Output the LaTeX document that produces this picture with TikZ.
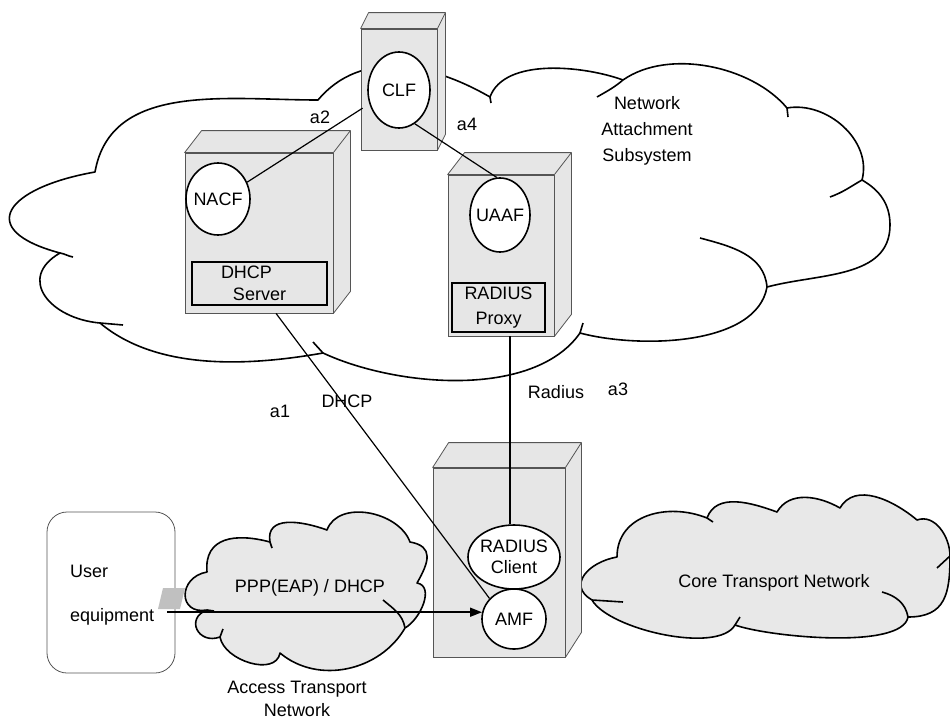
\documentclass[tikz,border=0pt]{standalone}
\usepackage{fontspec}
\setmainfont{Liberation Sans}
\usetikzlibrary{shapes.geometric,arrows.meta}
\definecolor{boxgrey}{HTML}{E6E6E6}
\definecolor{cloudgrey}{HTML}{E8E8E8}
\definecolor{edgegrey}{HTML}{555555}
\definecolor{plug}{HTML}{C0C0C0}
\def\txt{\fontsize{18}{21}\selectfont}
\newcommand\cubesides[3]{%
  \draw[cubeedge] (#1.north west) -- ++(#2,#3) -- ([shift={(#2,#3)}]#1.north east)
    -- ([shift={(#2,#3)}]#1.south east) -- (#1.south east) -- (#1.north east) -- cycle;
  \draw[cubeedge] (#1.north east) -- ++(#2,#3);}

\begin{document}
\begin{tikzpicture}[x=1pt, y=1pt,
    every node/.style={font=\txt},
    cube/.style={draw=edgegrey, fill=boxgrey, line width=0.8pt, inner sep=0pt},
    cubeedge/.style={draw=edgegrey, fill=boxgrey, line width=0.8pt, line join=round},
    func/.style={ellipse, draw, fill=white, line width=1.6pt, inner sep=0pt, align=center},
    inbox/.style={draw, fill=boxgrey, line width=1.4pt, inner sep=0pt, align=center},
    cloudline/.style={line width=1.6pt, line join=round},
    link/.style={line width=1.2pt}]
  \useasboundingbox (0,0) rectangle (950,-720);

  \draw[cloudline, fill=white] (95,-172) to[out=80,in=180] (318,-100)
    to[out=50,in=150] (490,-97) to[out=70,in=160,looseness=0.8] (623,-80)
    to[out=35,in=130,looseness=0.85] (787,-108) to[out=10,in=75] (862,-180)
    to[out=-30,in=90] (890,-225) to[out=-90,in=15] (767,-287)
    to[out=-100,in=-15,looseness=0.8] (580,-333) to[out=-125,in=-25,looseness=0.8] (323,-353)
    to[out=190,in=-40,looseness=0.85] (100,-323) to[out=175,in=-150,looseness=1.6] (60,-253)
    to[out=165,in=190,looseness=2.6] (95,-172) -- cycle;
  \draw[cloudline] (60,-253) to[out=-10,in=170] (73,-257);
  \draw[cloudline] (100,-323) to[out=-5,in=175] (123,-325);
  \draw[cloudline] (323,-353) -- (313,-342);
  \draw[cloudline] (580,-333) -- (583,-323);
  \draw[cloudline] (767,-287) to[out=95,in=-15] (700,-238);
  \draw[cloudline] (862,-180) to[out=-150,in=20] (830,-197);
  \draw[cloudline] (787,-108) -- (788,-117);
  \draw[cloudline] (623,-80) to[out=-140,in=30] (597,-97);
  \draw[cloudline] (490,-97) -- (491,-103);

  \draw[cloudline, fill=cloudgrey] (617,-557) to[out=90,in=158,looseness=1.1] (707,-518)
    to[out=70,in=160] (777,-512) to[out=60,in=150] (840,-508)
    to[out=60,in=140] (917,-520) to[out=20,in=90] (950,-556)
    to[out=-90,in=0,looseness=1.3] (908,-617) to[out=-100,in=-20,looseness=0.5] (735,-625)
    to[out=-120,in=-60,looseness=0.6] (592,-600) to[out=150,in=190,looseness=1.5] (617,-557) -- cycle;
  \draw[cloudline] (908,-617) to[out=100,in=-15] (882,-592);
  \draw[cloudline] (950,-556) -- (937,-568);
  \draw[cloudline] (592,-600) -- (623,-602);
  \draw[cloudline] (735,-625) -- (740,-617);
  \draw[cloudline] (707,-518) -- (713,-522);

  \draw[cloudline, fill=cloudgrey] (207,-572) to[out=95,in=165,looseness=1.3] (270,-542)
    to[out=100,in=160,looseness=1.2] (327,-530) to[out=70,in=110] (410,-542)
    to[out=-10,in=60,looseness=1.5] (417,-583) to[out=-10,in=30] (405,-628)
    to[out=-120,in=-40] (280,-653) to[out=-100,in=-80] (220,-637)
    to[out=200,in=200,looseness=2] (207,-610) to[out=190,in=190,looseness=2] (207,-572) -- cycle;
  \draw[cloudline] (405,-628) to[out=100,in=-40] (383,-600);
  \draw[cloudline] (270,-542) -- (272,-548);
  \draw[cloudline] (220,-637) -- (223,-629);
  \draw[cloudline] (207,-610) -- (214,-611);

  \node[cube, minimum width=76, minimum height=121] (clfbox) at (399,-89.5) {};
  \cubesides{clfbox}{8}{16}
  \node[cube, minimum width=148, minimum height=160] (nacfbox) at (259,-233) {};
  \cubesides{nacfbox}{17}{22}
  \node[cube, minimum width=106, minimum height=161] (uaafbox) at (501,-255.5) {};
  \cubesides{uaafbox}{17}{22}
  \node[cube, minimum width=132, minimum height=189] (amfbox) at (499,-562.5) {};
  \cubesides{amfbox}{16}{25}

  \node[inbox, minimum width=135, minimum height=43, font=\fontsize{18}{22}\selectfont] (dhcp) at (259.5,-283.5) {\hspace*{-26pt}DHCP\\Server};
  \node[inbox, minimum width=93, minimum height=49, font=\fontsize{18}{25}\selectfont] (proxy) at (498.5,-307.5) {RADIUS\\Proxy};

  \node[func, minimum width=62, minimum height=76] (clf) at (399,-90) {CLF};
  \node[func, minimum width=64, minimum height=72, inner xsep=-2pt] (nacf) at (218,-199) {NACF};
  \node[func, minimum width=60, minimum height=74, inner xsep=-3pt] (uaaf) at (500,-215) {UAAF};
  \node[func, minimum width=92, minimum height=64, inner xsep=-2pt] (client) at (514,-557) {RADIUS\\Client};
  \node[func, minimum width=64, minimum height=60] (amf) at (514,-619) {AMF};

  \node[draw=edgegrey, line width=0.8pt, rounded corners=20pt, minimum width=128, minimum height=161] (ue) at (111,-592.5) {};
  \node[anchor=base west, inner sep=0pt] (user) at (70,-577) {User};
  \node[anchor=base west, inner sep=0pt] (equip) at (70,-621) {equipment};
  \fill[plug] (158,-609) -- (163,-588) -- (185,-588) -- (180,-609) -- cycle;

  \draw[link, shorten >=8pt] (nacf.30) -- (clf.205);
  \draw[link] (clf.-65) -- (uaaf.95);
  \draw[link] ([xshift=17pt]nacfbox.south) -- (amf.140);
  \draw[link, line width=1.5pt] ([xshift=-4pt]client.north) -- ([xshift=-4pt]client.north |- uaafbox.south);
  \draw[link, line width=1.6pt, -{Triangle[length=12pt,width=9pt]}] ([xshift=-8pt]ue.east |- amf.168) -- (amf.168);

  \node (a2) at (320,-117) {a2};
  \node (a4) at (467,-124) {a4};
  \node (a1) at (280,-411) {a1};
  \node (dhcplbl) at (347,-401) {DHCP};
  \node (radiuslbl) at (556,-392) {Radius};
  \node (a3) at (618,-389) {a3};
  \node[align=center, font=\fontsize{18}{26}\selectfont] (nas) at (647,-131) {Network\\Attachment\\Subsystem};
  \node (ppp) at (310,-588) {PPP(EAP) / DHCP};
  \node[align=center, font=\fontsize{18}{23}\selectfont] (atn) at (297,-699) {Access Transport\\Network};
  \node (ctn) at (774,-583) {Core Transport Network};
\end{tikzpicture}
\end{document}
